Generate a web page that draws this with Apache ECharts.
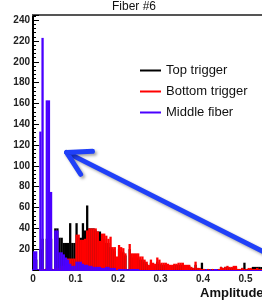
<!DOCTYPE html>
<html>
    <head>
        <meta charset="utf-8">
        <script src="https://cdn.jsdelivr.net/npm/echarts@6/dist/echarts.min.js"></script>
        <style>
            html, body { margin: 0; padding: 0; background: #fff; }
        </style>
    </head>
    <body>
        <div id="main" style="width: 262px;height:304px;"></div>
        <script type="text/javascript">
            // histogram bins, 0.005 wide starting at 0
            var binStart = 0;
            var binWidth = 0.005;

            var topTrigger = [
                13, 10, 0, 20, 30, 0, 30, 30, 30, 0,
                40, 40, 31, 31, 26, 26, 26, 45, 26, 26,
                45, 31, 31, 45, 38, 62, 40, 40, 40, 38,
                37, 37, 28, 30, 26, 26, 22, 20, 18, 0,
                20, 18, 17, 14, 0, 20, 12, 12, 12, 12,
                10, 10, 8, 6, 4, 7, 5, 4, 8, 6,
                5, 5, 5, 4, 4, 4, 5, 5, 5, 5,
                5, 4, 4, 4, 2, 2, 5, 2, 1, 7,
                1, 0, 1, 0, 1, 0, 0, 1, 3, 2,
                3, 3, 2, 2, 3, 3, 1, 1, 2, 7,
                1, 1, 1, 3, 3, 3, 3, 3
            ];
            var bottomTrigger = [
                0, 0, 0, 1, 1, 0, 2, 2, 2, 0,
                2, 2, 2, 4, 4, 5, 11, 11, 11, 11,
                34, 34, 29, 29, 30, 38, 40, 40, 40, 40,
                37, 28, 35, 35, 33, 30, 32, 22, 22, 13,
                24, 22, 21, 16, 0, 25, 16, 16, 16, 16,
                13, 13, 10, 8, 5, 10, 7, 6, 12, 10,
                7, 7, 7, 6, 5, 5, 6, 6, 7, 7,
                7, 5, 5, 5, 3, 2, 8, 2, 2, 1,
                1, 0, 1, 0, 1, 0, 0, 1, 3, 2,
                3, 4, 3, 3, 4, 4, 1, 1, 2, 1,
                1, 2, 2, 1, 1, 2, 1, 1
            ];
            var middleFiber = [
                18, 18, 0, 133, 223, 0, 163, 163, 75, 0,
                38, 38, 17, 17, 15, 12, 10, 6, 4, 4,
                8, 8, 8, 6, 5, 5, 4, 4, 3, 3,
                3, 3, 2, 2, 3, 3, 2, 2, 2, 0,
                1, 1, 1, 1, 0, 1, 1, 1, 1, 1
            ];

            var names = ['Top trigger', 'Bottom trigger', 'Middle fiber'];
            var colors = ['#000000', '#ff0000', '#4a00ff'];

            function toBins(arr) {
                return arr.map(function (v, i) {
                    return [binStart + binWidth * (i + 0.5), v];
                });
            }

            var font = 'Liberation Sans, Arial, sans-serif';
            var myChart = echarts.init(document.getElementById('main'));

            var series = [topTrigger, bottomTrigger, middleFiber].map(function (arr, k) {
                return {
                    name: names[k],
                    type: 'bar',
                    data: toBins(arr),
                    barWidth: 2.3,
                    barGap: '-100%',
                    itemStyle: { color: colors[k] },
                    animation: false
                };
            });

            var option = {
                backgroundColor: '#fff',
                animation: false,
                grid: { left: 33, top: 15, width: 255, height: 255, outerBoundsMode: 'none', containLabel: false },
                legend: {
                    orient: 'vertical',
                    left: 140,
                    top: 64,
                    padding: 0,
                    itemWidth: 21,
                    itemHeight: 2,
                    itemGap: 8,
                    icon: 'rect',
                    data: names,
                    textStyle: { fontFamily: font, fontSize: 13, color: '#111' }
                },
                xAxis: [{
                    type: 'value',
                    min: 0,
                    max: 0.6,
                    interval: 0.1,
                    splitLine: { show: false },
                    axisLine: { lineStyle: { color: '#4a00ff', width: 2 } },
                    axisTick: { show: false },
                    axisLabel: {
                        margin: 4,
                        fontFamily: font,
                        fontSize: 10,
                        fontWeight: 'bold',
                        color: '#222'
                    }
                }, {
                    type: 'value',
                    position: 'top',
                    min: 0,
                    max: 0.6,
                    splitLine: { show: false },
                    axisLine: { lineStyle: { color: '#555', width: 2 } },
                    axisTick: { show: false },
                    axisLabel: { show: false }
                }],
                yAxis: {
                    type: 'value',
                    min: 0,
                    max: 245,
                    interval: 20,
                    splitLine: { show: false },
                    axisLine: { show: true, lineStyle: { color: '#000', width: 2 } },
                    axisTick: { show: true, inside: true, length: 6, lineStyle: { color: '#000' } },
                    minorTick: { show: true, splitNumber: 5, length: 3, lineStyle: { color: '#000' } },
                    axisLabel: {
                        margin: 3,
                        fontFamily: font,
                        fontSize: 10,
                        fontWeight: 'bold',
                        color: '#222',
                        showMaxLabel: false,
                        formatter: function (v) {
                            return (v > 0 && v <= 240) ? String(v) : '';
                        }
                    }
                },
                graphic: [{
                    id: 'title',
                    type: 'text',
                    left: 112,
                    top: 1,
                    style: { text: 'Fiber #6', fontFamily: font, fontSize: 12, fill: '#111' }
                }, {
                    id: 'xname',
                    type: 'text',
                    left: 200,
                    top: 287,
                    style: { text: 'Amplitude', fontFamily: font, fontSize: 13, fontWeight: 'bold', fill: '#111' }
                }],
                series: series
            };

            myChart.setOption(option);

            // the annotation arrow, placed in data coordinates
            var arrowTip = [0.079, 113];
            var arrowTail = [0.545, 17];
            var arrowArms = [[0.140, 114], [0.112, 92]];
            var px = function (p) { return myChart.convertToPixel({ gridIndex: 0 }, p); };
            var arrowStyle = {
                stroke: '#2040f8',
                lineWidth: 5,
                lineCap: 'round',
                lineJoin: 'round',
                fill: null,
                shadowBlur: 3,
                shadowColor: 'rgba(0,0,0,0.35)',
                shadowOffsetX: 2,
                shadowOffsetY: 2
            };
            myChart.setOption({
                graphic: [{
                    id: 'arrowShaft',
                    type: 'polyline',
                    z: 100,
                    shape: { points: [px(arrowTail), px(arrowTip)] },
                    style: arrowStyle
                }, {
                    id: 'arrowHead',
                    type: 'polyline',
                    z: 100,
                    shape: { points: [px(arrowArms[0]), px(arrowTip), px(arrowArms[1])] },
                    style: arrowStyle
                }]
            });
        </script>
    </body>
</html>
